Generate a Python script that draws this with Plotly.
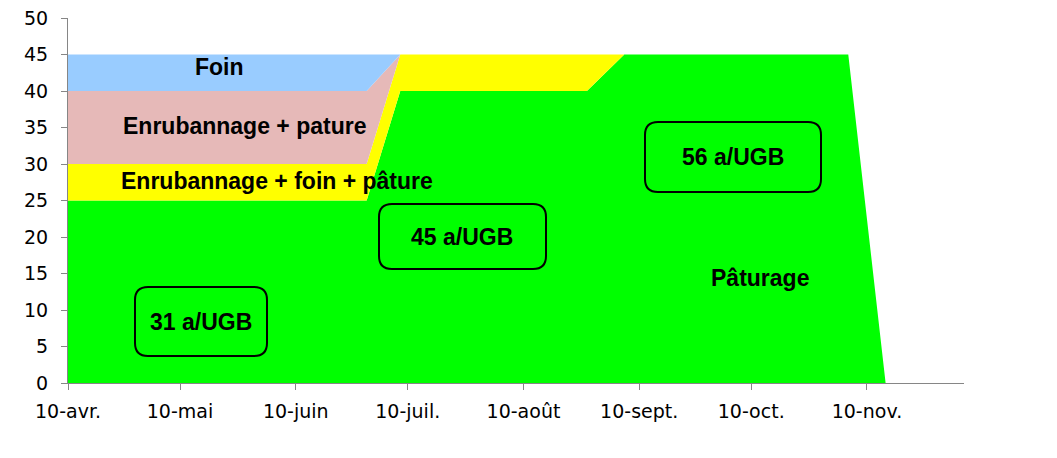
import plotly.graph_objects as go

# dates where the stacked areas change shape
dates = ["2010-04-10", "2010-06-29", "2010-07-08", "2010-08-27",
         "2010-09-06", "2010-11-05", "2010-11-15"]

paturage = [25, 25, 40, 40, 45, 45, 0]
enrub_foin_pature = [5, 5, 5, 5, 0, 0, 0]
enrub_pature = [10, 10, 0, 0, 0, 0, 0]
foin = [5, 5, 0, 0, 0, 0, 0]

tick_dates = ["2010-04-10", "2010-05-10", "2010-06-10", "2010-07-10",
              "2010-08-10", "2010-09-10", "2010-10-10", "2010-11-10"]
tick_labels = ["10-avr.", "10-mai", "10-juin", "10-juil.",
               "10-août", "10-sept.", "10-oct.", "10-nov."]

W, H = 1057, 458
OFF = 8  # page body margin pushes the figure by 8px
# plot area in page pixels
X0, X1, Y0, Y1 = 68, 964, 18, 383


def px(x):
    return (x - X0) / (X1 - X0)


def py(y):
    return (Y1 - y) / (Y1 - Y0)


def rounded_box(x0, y0, x1, y1, r=13):
    # rounded rectangle in page pixels, converted to paper coords
    pts = [
        f"M {px(x0 + r)} {py(y0)}",
        f"L {px(x1 - r)} {py(y0)}",
        f"Q {px(x1)} {py(y0)} {px(x1)} {py(y0 + r)}",
        f"L {px(x1)} {py(y1 - r)}",
        f"Q {px(x1)} {py(y1)} {px(x1 - r)} {py(y1)}",
        f"L {px(x0 + r)} {py(y1)}",
        f"Q {px(x0)} {py(y1)} {px(x0)} {py(y1 - r)}",
        f"L {px(x0)} {py(y0 + r)}",
        f"Q {px(x0)} {py(y0)} {px(x0 + r)} {py(y0)}",
        "Z",
    ]
    return dict(type="path", xref="paper", yref="paper", path=" ".join(pts),
                line=dict(color="black", width=2), fillcolor="rgba(0,0,0,0)")


fig = go.Figure()
series = [
    ("Pâturage", paturage, "#00FF00"),
    ("Enrubannage + foin + pâture", enrub_foin_pature, "#FFFF00"),
    ("Enrubannage + pature", enrub_pature, "#E6B9B8"),
    ("Foin", foin, "#99CCFF"),
]
for name, vals, col in series:
    fig.add_trace(go.Scatter(
        x=dates, y=vals, name=name, stackgroup="one", mode="lines",
        line=dict(width=0, color=col), fillcolor=col
    ))

label_font = dict(family="Liberation Sans, Arial", size=23, color="black")
texts = [
    ("Foin", 219, 67),
    ("Enrubannage + pature", 244, 126),
    ("Enrubannage + foin + pâture", 277, 181),
    ("Pâturage", 760, 278),
    ("31 a/UGB", 201, 322),
    ("45 a/UGB", 462, 237),
    ("56 a/UGB", 733, 157),
]
annotations = [
    dict(text=f"<b>{t}</b>", x=px(x), y=py(y), xref="paper", yref="paper",
         showarrow=False, font=label_font, xanchor="center", yanchor="middle")
    for t, x, y in texts
]

shapes = [
    rounded_box(135, 287, 267, 356),
    rounded_box(379, 204, 546, 269),
    rounded_box(645, 122, 821, 192),
    dict(type="line", xref="paper", yref="paper", x0=px(1054), x1=px(1054),
         y0=py(0), y1=py(457), line=dict(color="#D0D0D0", width=1.5)),
]

fig.update_layout(
    width=W, height=H,
    margin=dict(l=X0 - OFF, r=W - (X1 - OFF), t=Y0 - OFF, b=H - (Y1 - OFF)),
    paper_bgcolor="white", plot_bgcolor="white",
    showlegend=False,
    annotations=annotations,
    shapes=shapes,
    font=dict(family="DejaVu Sans, sans-serif", size=19, color="black"),
)
fig.update_xaxes(
    type="date", range=["2010-04-10", "2010-12-06"],
    tickvals=tick_dates, ticktext=tick_labels,
    showgrid=False, zeroline=False, automargin=False,
    showline=True, linecolor="#868686", linewidth=1,
    ticks="outside", ticklen=6, tickcolor="#868686",
    tickfont=dict(size=19), ticklabelstandoff=5,
    ticklabeloverflow="allow",
)
fig.update_yaxes(
    range=[0, 50], dtick=5,
    showgrid=False, zeroline=False, automargin=False,
    showline=True, linecolor="#868686", linewidth=1,
    ticks="outside", ticklen=6, tickcolor="#868686",
    tickfont=dict(size=19), ticklabelstandoff=9,
    ticklabeloverflow="allow",
)

fig.write_html("out.html")
